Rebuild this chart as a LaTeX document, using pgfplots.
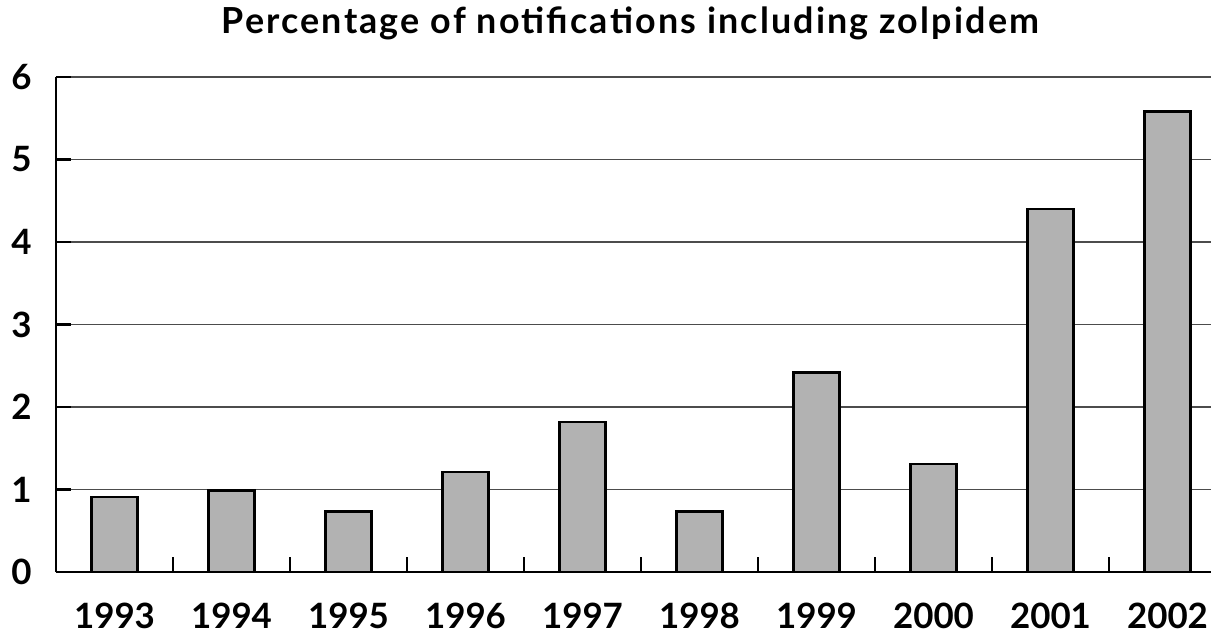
\documentclass[border=0pt]{standalone}
\usepackage{pgfplots}
\pgfplotsset{compat=1.18}
\usepackage{fontspec}
\setmainfont{Lato}
\newfontfamily\titlefont[LetterSpace=6]{Lato}
\begin{document}
\begin{tikzpicture}
\useasboundingbox (0,0) rectangle (605.5bp,316.5bp);
\begin{axis}[
  at={(28bp,30.5bp)}, anchor=south west,
  scale only axis, width=585bp, height=247.5bp,
  xmin=-0.5, xmax=9.5, ymin=0, ymax=6,
  axis x line=bottom, axis y line=left,
  axis line style={-, line width=1.3bp, black},
  xtick={0,...,9},
  xticklabels={1993,1994,1995,1996,1997,1998,1999,2000,2001,2002},
  minor xtick={0.5,1.5,...,8.5},
  ytick={0,...,6},
  major x tick style={draw=none},
  minor x tick style={line width=0.6bp, black},
  minor tick length=7.5bp,
  major tick length=7.5bp,
  y tick style={line width=1.2bp, black},
  tick align=inside,
  ymajorgrids,
  major grid style={line width=0.9bp, black!70},
  /pgf/number format/assume math mode=true,
  tick label style={font=\fontsize{17.5}{20}\selectfont\bfseries},
  xticklabel style={anchor=base, yshift=-28bp, inner sep=0pt},
  yticklabel style={anchor=east, xshift=-12bp, inner sep=0pt},
  title={Percentage of notifications including zolpidem},
  title style={at={(axis description cs:0.491,1)}, anchor=base, yshift=16bp, inner sep=0pt, font=\titlefont\fontsize{18}{20}\selectfont\bfseries},
]
\addplot[ybar, bar width=23bp, fill=black!30, draw=black, line width=1.3bp]
coordinates {(0,0.91) (1,0.99) (2,0.73) (3,1.21) (4,1.82) (5,0.73) (6,2.42) (7,1.31) (8,4.40) (9,5.58)};
\end{axis}
\end{tikzpicture}
\end{document}
